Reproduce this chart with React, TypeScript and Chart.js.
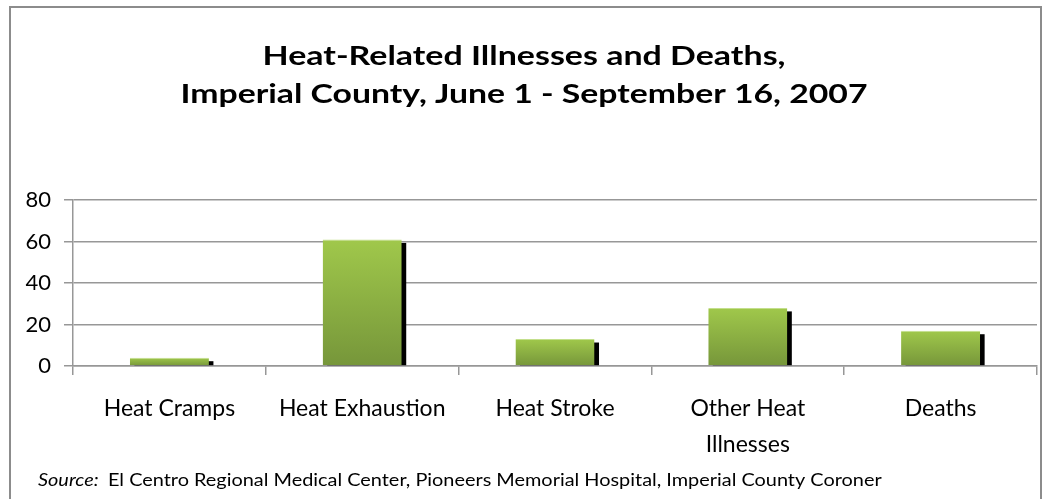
import React, { useEffect, useRef } from 'react';
import { Chart, registerables } from 'chart.js';

Chart.register(...registerables);

const categories: string[][] = [
  ['Heat Cramps'],
  ['Heat Exhaustion'],
  ['Heat Stroke'],
  ['Other Heat', 'Illnesses'],
  ['Deaths'],
];
const values: number[] = [4, 61, 13, 28, 17];
const yMin = 0;
const yMax = 80;
const yStep = 20;
const titleLines: string[] = [
  'Heat-Related Illnesses and Deaths,',
  'Imperial County, June 1 - September 16, 2007',
];
const sourceLabel = 'Source:';
const sourceText = 'El Centro Regional Medical Center, Pioneers Memorial Hospital, Imperial County Coroner';

const FONT = 'Lato, "Noto Sans", sans-serif';
const GRID = '#979797';

function drawStretched(ctx: CanvasRenderingContext2D, text: string, cx: number, y: number, targetW: number) {
  const w = ctx.measureText(text).width;
  const s = targetW / w;
  ctx.save();
  ctx.translate(cx, y);
  ctx.scale(s, 1);
  ctx.fillText(text, 0, 0);
  ctx.restore();
}

const decor = {
  id: 'decor',
  beforeDraw(chart: any) {
    const ctx = chart.ctx;
    ctx.save();
    ctx.fillStyle = '#ffffff';
    ctx.fillRect(0, 0, chart.width, chart.height);
    ctx.restore();
  },
  beforeDatasetsDraw(chart: any) {
    const ctx = chart.ctx;
    const meta = chart.getDatasetMeta(0);
    ctx.save();
    ctx.fillStyle = '#000000';
    meta.data.forEach((bar: any) => {
      const { x, y, base, width } = bar.getProps(['x', 'y', 'base', 'width'], true);
      const left = x - width / 2 + 4.5;
      const top = y + 3.5;
      if (base - top > 0) ctx.fillRect(left, top, width, base - top);
    });
    ctx.restore();
  },
  afterDraw(chart: any) {
    const ctx = chart.ctx;
    ctx.save();
    // title (source artwork is horizontally stretched)
    ctx.fillStyle = '#000000';
    ctx.textAlign = 'center';
    ctx.textBaseline = 'alphabetic';
    ctx.font = `bold 27px ${FONT}`;
    drawStretched(ctx, titleLines[0], 524, 65, 523);
    drawStretched(ctx, titleLines[1], 524, 103, 687);
    // source
    ctx.textAlign = 'left';
    const sx = 38;
    const sy = 486;
    const scaleX = 1.17;
    ctx.save();
    ctx.translate(sx, sy);
    ctx.scale(scaleX, 1);
    ctx.font = `italic 17px ${FONT}`;
    ctx.fillText(sourceLabel, 0, 0);
    const w = ctx.measureText(sourceLabel + '  ').width;
    ctx.font = `17px ${FONT}`;
    ctx.fillText(sourceText, w, 0);
    ctx.restore();
    // border
    ctx.strokeStyle = '#8c8c8c';
    ctx.lineWidth = 2;
    ctx.strokeRect(10, 7, 1031, 510);
    ctx.restore();
  },
};

function barFill(context: any) {
  const chart = context.chart;
  const yScale = chart.scales?.y;
  if (!chart.chartArea || !yScale || context.raw == null) return '#8aae42';
  const top = yScale.getPixelForValue(context.raw);
  const base = yScale.getPixelForValue(0);
  const g = chart.ctx.createLinearGradient(0, top, 0, base);
  g.addColorStop(0, '#a0c84b');
  g.addColorStop(1, '#76963a');
  return g;
}

export default function App() {
  const ref = useRef<HTMLCanvasElement | null>(null);
  useEffect(() => {
    if (!ref.current) return;
    const chart = new Chart(ref.current, {
      type: 'bar',
      data: {
        labels: categories,
        datasets: [
          {
            data: values,
            backgroundColor: barFill,
            borderColor: '#c3df8c',
            borderWidth: { top: 1, left: 0, right: 0, bottom: 0 },
            borderSkipped: false,
            barPercentage: 0.41,
            categoryPercentage: 1,
          },
        ],
      },
      options: {
        animation: false,
        responsive: false,
        maintainAspectRatio: false,
        layout: { padding: { top: 200, left: 0, right: 11, bottom: 0 } },
        plugins: {
          legend: { display: false },
          title: { display: false },
          tooltip: { enabled: false },
        },
        scales: {
          x: {
            afterFit(scale: any) {
              scale.height = 133;
            },
            grid: {
              drawOnChartArea: false,
              drawTicks: true,
              tickLength: 9,
              color: GRID,
              lineWidth: 1.5,
              offset: true,
            },
            border: { display: true, color: GRID, width: 1.5 },
            ticks: {
              color: '#000000',
              font: { family: FONT, size: 23, lineHeight: 36 / 23 },
              padding: 16,
              maxRotation: 0,
              autoSkip: false,
            },
          },
          y: {
            min: yMin,
            max: yMax,
            afterFit(scale: any) {
              scale.width = 73;
            },
            grid: {
              color: GRID,
              lineWidth: 1.5,
              drawTicks: true,
              tickLength: 9,
            },
            border: { display: true, color: GRID, width: 1.5 },
            ticks: {
              stepSize: yStep,
              color: '#000000',
              font: { family: FONT, size: 22 },
              padding: 13,
            },
          },
        },
      },
      plugins: [decor],
    });
    return () => chart.destroy();
  }, []);
  return (
    <div style={{ position: 'fixed', left: 0, top: 0, width: 1048, height: 499, background: '#fff' }}>
      <canvas ref={ref} width={1048} height={499} style={{ width: 1048, height: 499, display: 'block' }} />
    </div>
  );
}
